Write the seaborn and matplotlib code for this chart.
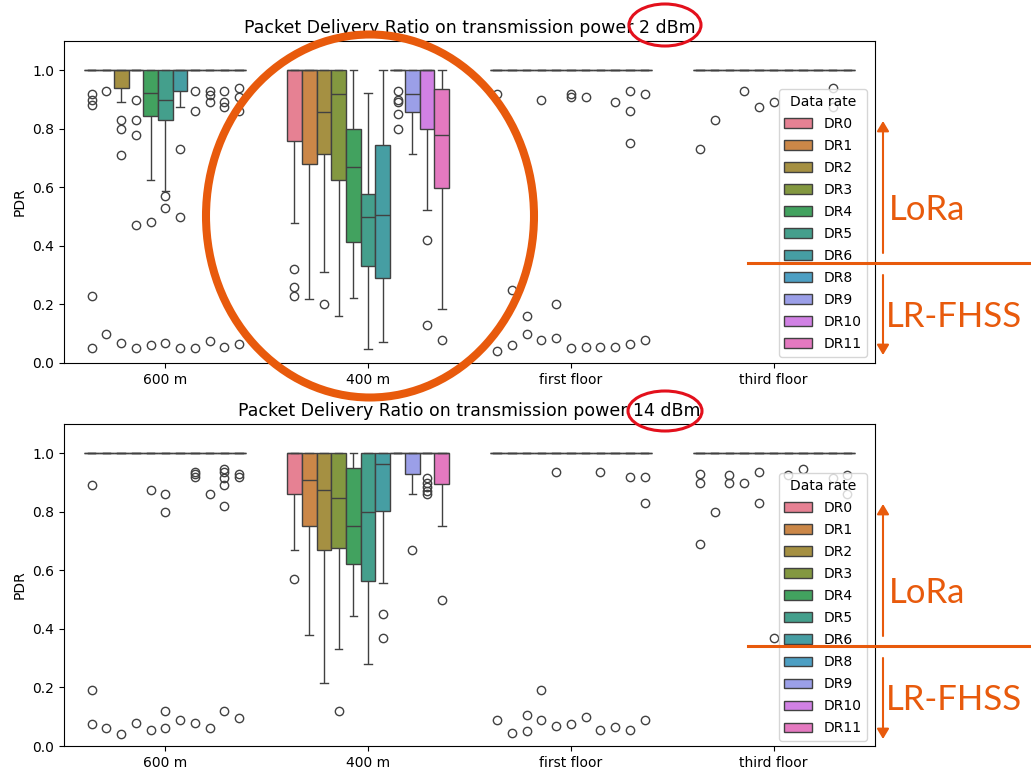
import matplotlib
matplotlib.use("Agg")
import matplotlib.pyplot as plt
from matplotlib.patches import Ellipse, FancyArrowPatch
from matplotlib.lines import Line2D
import seaborn as sns
import pandas as pd

sites = ["600 m", "400 m", "first floor", "third floor"]
data_rates = ["DR0", "DR1", "DR2", "DR3", "DR4", "DR5", "DR6", "DR8", "DR9", "DR10", "DR11"]

# box summaries per data rate: (whisker low, Q1, median, Q3, whisker high); None = everything at 1.0
box_2dbm_600 = [None, None, (0.892, 0.941, 1.0, 1.0, 1.0), None,
                (0.625, 0.845, 0.924, 1.0, 1.0), (0.587, 0.831, 0.900, 1.0, 1.0),
                (0.875, 0.928, 1.0, 1.0, 1.0), None, None, None, None]
box_2dbm_400 = [(0.479, 0.758, 1.0, 1.0, 1.0), (0.218, 0.681, 1.0, 1.0, 1.0),
                (0.312, 0.714, 0.858, 1.0, 1.0), (0.161, 0.625, 0.920, 1.0, 1.0),
                (0.221, 0.414, 0.671, 0.800, 1.0), (0.048, 0.331, 0.499, 0.579, 0.924),
                (0.071, 0.291, 0.505, 0.744, 1.0), None,
                (0.715, 0.858, 0.920, 1.0, 1.0), (0.524, 0.800, 1.0, 1.0, 1.0),
                (0.183, 0.597, 0.780, 0.935, 1.0)]
box_14dbm_400 = [(0.669, 0.862, 1.0, 1.0, 1.0), (0.380, 0.750, 0.908, 1.0, 1.0),
                 (0.215, 0.669, 0.876, 1.0, 1.0), (0.332, 0.678, 0.847, 1.0, 1.0),
                 (0.443, 0.622, 0.750, 0.951, 1.0), (0.280, 0.565, 0.800, 1.0, 1.0),
                 (0.557, 0.804, 0.962, 1.0, 1.0), None,
                 (0.860, 0.930, 1.0, 1.0, 1.0), None,
                 (0.750, 0.894, 1.0, 1.0, 1.0)]
box_all_ones = [None] * 11

# outliers per data rate
out_2dbm_600 = [[0.92, 0.90, 0.88, 0.23, 0.05], [0.93, 0.10], [0.83, 0.80, 0.71, 0.07],
                [0.90, 0.83, 0.78, 0.47, 0.05], [0.48, 0.06], [0.57, 0.53, 0.07],
                [0.73, 0.50, 0.05], [0.93, 0.86, 0.05], [0.93, 0.915, 0.89, 0.075],
                [0.93, 0.89, 0.875, 0.055], [0.94, 0.91, 0.86, 0.065]]
out_2dbm_400 = [[0.32, 0.26, 0.23], [], [0.20], [], [], [], [],
                [0.93, 0.90, 0.89, 0.85, 0.80], [], [0.42, 0.13], [0.08]]
out_2dbm_first = [[0.92, 0.04], [0.25, 0.06], [0.16, 0.10], [0.90, 0.08], [0.20, 0.085],
                  [0.92, 0.91, 0.05], [0.91, 0.055], [0.055], [0.89, 0.055],
                  [0.93, 0.86, 0.75, 0.065], [0.92, 0.08]]
out_2dbm_third = [[0.73], [0.83], [], [0.93], [0.875], [0.89], [], [], [],
                  [0.94, 0.875], []]
out_14dbm_600 = [[0.89, 0.19, 0.075], [0.06], [0.04], [0.08], [0.875, 0.055],
                 [0.86, 0.80, 0.12, 0.06], [0.09], [0.935, 0.93, 0.92, 0.08], [0.86, 0.06],
                 [0.945, 0.935, 0.915, 0.89, 0.82, 0.12], [0.93, 0.92, 0.095]]
out_14dbm_400 = [[0.57], [], [], [0.12], [], [], [0.45, 0.37], [], [0.67],
                 [0.915, 0.90, 0.885, 0.87, 0.86], [0.50]]
out_14dbm_first = [[0.09], [0.045], [0.105, 0.05], [0.19, 0.09], [0.935, 0.07], [0.075],
                   [0.10], [0.935, 0.055], [0.065], [0.92, 0.055], [0.92, 0.83, 0.09]]
out_14dbm_third = [[0.93, 0.90, 0.69], [0.80], [0.925, 0.90], [0.90], [0.935, 0.83],
                   [0.37], [0.925], [0.945], [], [0.915], [0.925, 0.86]]


def group_values(summary, outs):
    # 4k+1 sorted points so numpy's quartiles land exactly on Q1 / median / Q3
    lo, q1, med, q3, hi = summary if summary is not None else (1.0,) * 5
    k = len(outs) + 1
    return sorted(outs) + [lo] * (k - len(outs)) + [q1] * k + [med] * k + [q3] + [hi] * k


def build_frame(boxes, outliers):
    rows = []
    for site, site_boxes, site_outs in zip(sites, boxes, outliers):
        for dr, summ, outs in zip(data_rates, site_boxes, site_outs):
            for v in group_values(summ, outs):
                rows.append({"site": site, "Data rate": dr, "PDR": v})
    return pd.DataFrame(rows)


df_2dbm = build_frame([box_2dbm_600, box_2dbm_400, box_all_ones, box_all_ones],
                      [out_2dbm_600, out_2dbm_400, out_2dbm_first, out_2dbm_third])
df_14dbm = build_frame([box_all_ones, box_14dbm_400, box_all_ones, box_all_ones],
                       [out_14dbm_600, out_14dbm_400, out_14dbm_first, out_14dbm_third])

W, H = 1031, 770
fig = plt.figure(figsize=(W / 100, H / 100), dpi=100)
ax_top = fig.add_axes([64 / W, 1 - 363 / H, 811 / W, 322 / H])
ax_bot = fig.add_axes([64 / W, 1 - 746 / H, 811 / W, 322 / H])

for ax, df, power, leg_y in [(ax_top, df_2dbm, "2", 0.851), (ax_bot, df_14dbm, "14", 0.847)]:
    sns.boxplot(data=df, x="site", y="PDR", hue="Data rate", order=sites,
                hue_order=data_rates, palette="husl", ax=ax)
    ax.set_ylim(0, 1.1)
    ax.set_xlabel("")
    ax.set_title(f"Packet Delivery Ratio on transmission power {power} dBm", fontsize=12.5)
    sns.move_legend(ax, "upper right", bbox_to_anchor=(0.990, leg_y), borderaxespad=0,
                    title="Data rate", labelspacing=0.58)

# annotations drawn on top of the figure (pixel positions)
orange = "#e85a0c"
red = "#e3101c"


def fp(x, y):
    return (x / W, 1 - y / H)


fig.add_artist(Ellipse(fp(370, 216), 328 / W, 363 / H, transform=fig.transFigure,
                       fill=False, edgecolor=orange, lw=5.8))
fig.add_artist(Ellipse(fp(665, 25), 72 / W, 42 / H, transform=fig.transFigure,
                       fill=False, edgecolor=red, lw=2.2))
fig.add_artist(Ellipse(fp(665, 411), 74 / W, 40 / H, transform=fig.transFigure,
                       fill=False, edgecolor=red, lw=2.2))

for line_y, lora_top, fhss_bot in [(263, 121, 355), (646, 504, 739)]:
    fig.add_artist(Line2D([748 / W, 1.0], [1 - line_y / H] * 2, transform=fig.transFigure,
                          color=orange, lw=2.2))
    fig.add_artist(FancyArrowPatch(fp(883, line_y - 10), fp(883, lora_top),
                                   arrowstyle="-|>,head_length=0.5,head_width=0.3",
                                   mutation_scale=12, lw=1.5, color=orange,
                                   shrinkA=0, shrinkB=0, transform=fig.transFigure))
    fig.add_artist(FancyArrowPatch(fp(883, line_y + 12), fp(883, fhss_bot),
                                   arrowstyle="-|>,head_length=0.5,head_width=0.3",
                                   mutation_scale=12, lw=1.5, color=orange,
                                   shrinkA=0, shrinkB=0, transform=fig.transFigure))
    mid_lora = (lora_top + line_y) / 2 + 18
    mid_fhss = (line_y + fhss_bot) / 2 + 8
    fig.text(*fp(889, mid_lora), "LoRa", fontsize=25, color=orange, family="Lato",
             ha="left", va="center")
    fig.text(*fp(886, mid_fhss), "LR-FHSS", fontsize=25, color=orange, family="Lato",
             ha="left", va="center")

fig.savefig("out.png", dpi=100)
